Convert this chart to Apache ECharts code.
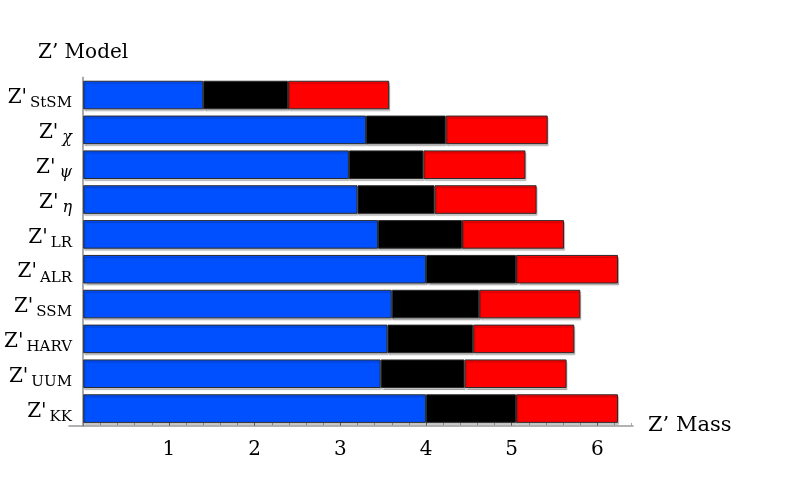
<!DOCTYPE html>
<html>
<head>
<meta charset="utf-8">
<script src="https://cdn.jsdelivr.net/npm/echarts@6/dist/echarts.min.js"></script>
<style>
html,body{margin:0;padding:0;background:#fff;}
#chart{width:804px;height:497px;}
</style>
</head>
<body>
<div id="chart"></div>
<script>
// Z' model categories (subscript part of each label)
const categories = ['StSM', 'χ', 'ψ', 'η', 'LR', 'ALR', 'SSM', 'HARV', 'UUM', 'KK'];
const greekLabels = ['χ', 'ψ', 'η'];
// Segment lengths (TeV) for each band, stacked left to right
const blueBand  = [1.40, 3.30, 3.10, 3.20, 3.44, 4.00, 3.60, 3.55, 3.47, 4.00];
const blackBand = [0.99, 0.93, 0.87, 0.90, 0.98, 1.05, 1.02, 1.00, 0.98, 1.05];
const redBand   = [1.18, 1.19, 1.19, 1.19, 1.19, 1.19, 1.18, 1.18, 1.19, 1.19];
// Axis ticks
const tickLabels = [1, 2, 3, 4, 5, 6];
const majorTicks = [0, 1, 2, 3, 4, 5, 6];
const minorTicks = [0.2, 0.4, 0.6, 0.8, 1.2, 1.4, 1.6, 1.8, 2.2, 2.4, 2.6, 2.8,
                    3.2, 3.4, 3.6, 3.8, 4.2, 4.4, 4.6, 4.8, 5.2, 5.4, 5.6, 5.8, 6.2, 6.4];
const axisMin = -0.166;
const axisMax = 6.415;

const chart = echarts.init(document.getElementById('chart'), null, {renderer: 'canvas'});

const barStyle = (color) => ({
  color: color,
  borderColor: '#2a2a2a',
  borderWidth: 1,
  shadowColor: 'rgba(0,0,0,0.22)',
  shadowOffsetX: 1,
  shadowOffsetY: 2,
  shadowBlur: 1
});

const option = {
  animation: false,
  backgroundColor: '#fff',
  title: {
    text: 'Z\u2019 Model',
    left: 33,
    top: 38,
    textStyle: {fontFamily: 'DejaVu Serif', fontSize: 20, fontWeight: 'normal', color: '#000'}
  },
  grid: {left: 69, right: 171, top: 77.6, bottom: 71, containLabel: false, outerBoundsMode: 'none'},
  xAxis: [{
    type: 'value',
    min: axisMin,
    max: axisMax,
    name: 'Z\u2019 Mass',
    nameLocation: 'end',
    nameGap: 15,
    nameTextStyle: {fontFamily: 'DejaVu Serif', fontSize: 21, color: '#000', padding: [4, 0, 0, 0]},
    axisLine: {show: true, onZero: false, lineStyle: {color: '#999', width: 1.5}},
    axisTick: {show: true, inside: true, length: 4, customValues: majorTicks, lineStyle: {color: '#777', width: 1}},
    axisLabel: {show: true, customValues: tickLabels, margin: 14,
      fontFamily: 'DejaVu Serif', fontSize: 20, color: '#000'},
    splitLine: {show: false}
  }, {
    type: 'value',
    min: axisMin,
    max: axisMax,
    position: 'bottom',
    axisLine: {show: false},
    axisTick: {show: true, inside: true, length: 3, customValues: minorTicks, lineStyle: {color: '#aaa', width: 1}},
    axisLabel: {show: false},
    splitLine: {show: false}
  }],
  yAxis: {
    type: 'category',
    inverse: true,
    data: categories,
    axisLine: {show: true, onZero: true, lineStyle: {color: '#aaa', width: 2}},
    axisTick: {show: false},
    axisLabel: {
      margin: -3,
      padding: [6, 0, 0, 0],
      formatter: (v) => greekLabels.includes(v) ? '{z|Z\'}{g|' + v + '}' : '{z|Z\'}{s|' + v + '}',
      rich: {
        z: {fontFamily: 'DejaVu Serif', fontSize: 20, color: '#000', lineHeight: 26},
        s: {fontFamily: 'DejaVu Serif', fontSize: 15, color: '#000', verticalAlign: 'bottom', lineHeight: 15, padding: [0, 0, 0, 3]},
        g: {fontFamily: 'DejaVu Serif', fontStyle: 'italic', fontSize: 16, color: '#000', verticalAlign: 'bottom', lineHeight: 15, padding: [0, 0, 0, 4]}
      }
    },
    splitLine: {show: false}
  },
  series: [
    {type: 'bar', stack: 'm', data: blueBand, barCategoryGap: '18%', itemStyle: barStyle('#0050ff')},
    {type: 'bar', stack: 'm', data: blackBand, itemStyle: barStyle('#000000')},
    {type: 'bar', stack: 'm', data: redBand, itemStyle: barStyle('#ff0000')}
  ]
};
chart.setOption(option);
</script>
</body>
</html>
